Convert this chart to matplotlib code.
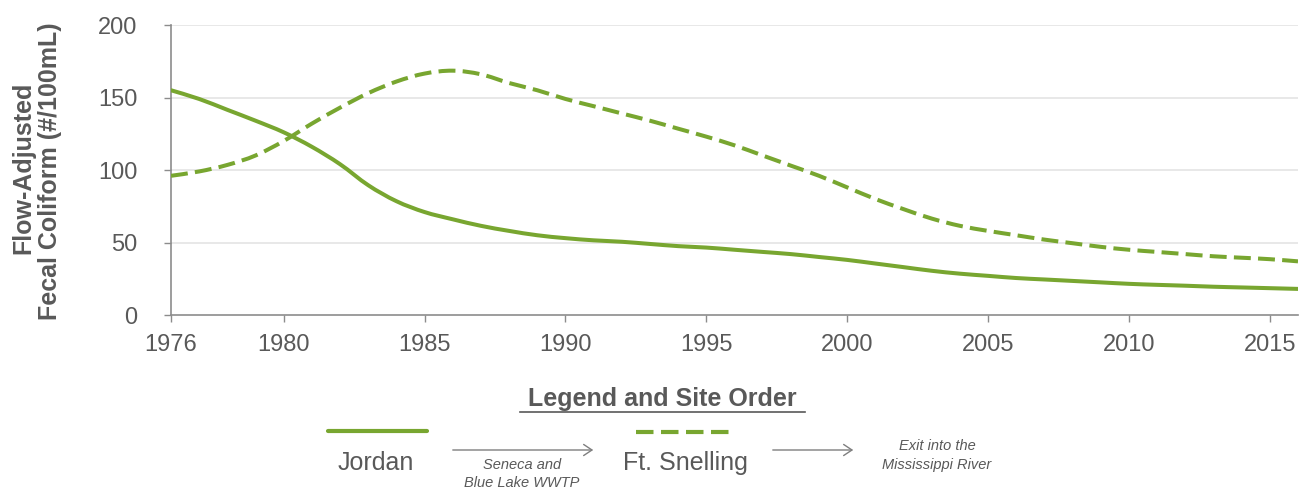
import matplotlib
matplotlib.use("Agg")
import matplotlib.pyplot as plt
import numpy as np
from matplotlib.lines import Line2D
from matplotlib.path import Path
from matplotlib.patches import PathPatch, FancyArrowPatch

plt.rcParams['font.family'] = ['Liberation Sans', 'DejaVu Sans']

years = list(range(1976, 2017))
jordan = [155, 149, 141.5, 134, 126, 116, 104, 89.5, 78.5, 71,
          66, 61.5, 58, 55, 53, 51.5, 50.5, 49, 47.5, 46.5,
          45, 43.5, 42, 40, 38, 35.5, 33, 30.5, 28.5, 27,
          25.5, 24.5, 23.5, 22.5, 21.5, 20.8, 20.2, 19.5, 19, 18.5, 18]
ft_snelling = [96, 99, 103.5, 110, 120, 132, 143, 153, 161, 166.5,
               168.5, 166, 160, 155, 149, 144, 139, 134, 128.5, 123,
               117, 110, 103, 96, 88, 80, 73, 66.5, 61.5, 58,
               55, 52, 49.5, 47, 45, 43.5, 42, 40.5, 39.5, 38.5, 37]
xticks = [1976, 1980, 1985, 1990, 1995, 2000, 2005, 2010, 2015]
yticks = [0, 50, 100, 150, 200]

GREEN = "#78A630"
GRAY_TXT = "#595959"
SPINE = "#8c8c8c"
DASH = (0, (4.2, 1.8))


def smooth_path(xs, ys):
    """Smoothed (Catmull-Rom style) Bezier path through the data points."""
    p = np.column_stack([xs, ys]).astype(float)
    n = len(p)
    verts = [p[0]]
    codes = [Path.MOVETO]
    for i in range(n - 1):
        p0 = p[i - 1] if i > 0 else p[i]
        p1, p2 = p[i], p[i + 1]
        p3 = p[i + 2] if i + 2 < n else p[i + 1]
        c1 = p1 + (p2 - p0) / 6.0
        c2 = p2 - (p3 - p1) / 6.0
        verts += [c1, c2, p2]
        codes += [Path.CURVE4] * 3
    return Path(verts, codes)


W, H = 1312, 494
fig = plt.figure(figsize=(W / 100, H / 100), dpi=100)
ax = fig.add_axes([171 / W, 1 - 315 / H, (1298 - 171) / W, (315 - 25) / H])

ax.add_patch(PathPatch(smooth_path(years, jordan), fill=False, edgecolor=GREEN, lw=2.9,
                       capstyle='round', zorder=3))
ax.add_patch(PathPatch(smooth_path(years, ft_snelling), fill=False, edgecolor=GREEN, lw=2.9,
                       linestyle=DASH, capstyle='butt', zorder=3))

ax.set_xlim(1976, 2016)
ax.set_ylim(0, 200)
ax.set_xticks(xticks)
ax.set_yticks(yticks)
ax.tick_params(axis='both', labelsize=17, colors=GRAY_TXT, length=5, width=1, color=SPINE)
ax.tick_params(axis='x', pad=9)
ax.tick_params(axis='y', pad=19)
for y in yticks[1:]:
    ax.axhline(y, color="#e6e6e6", lw=1.3, zorder=0)
for s in ['top', 'right']:
    ax.spines[s].set_visible(False)
for s in ['left', 'bottom']:
    ax.spines[s].set_color(SPINE)
    ax.spines[s].set_linewidth(1.2)

fig.text(23 / W, 1 - 168 / H, "Flow-Adjusted", rotation=90, ha='center', va='center',
         fontsize=18, fontweight='bold', color=GRAY_TXT)
fig.text(50 / W, 1 - 171 / H, "Fecal Coliform (#/100mL)", rotation=90, ha='center', va='center',
         fontsize=18, fontweight='bold', color=GRAY_TXT)

# Legend and site order
fig.text(662 / W, 1 - 399 / H, "Legend and Site Order", ha='center', va='center',
         fontsize=18, fontweight='bold', color=GRAY_TXT)
fig.add_artist(Line2D([520 / W, 805 / W], [1 - 412 / H, 1 - 412 / H], color=GRAY_TXT, lw=1.2))

fig.add_artist(Line2D([328 / W, 427 / W], [1 - 431 / H, 1 - 431 / H], color=GREEN, lw=3,
                      solid_capstyle='round'))
fig.add_artist(Line2D([636 / W, 735 / W], [1 - 432 / H, 1 - 432 / H], color=GREEN, lw=3,
                      linestyle=DASH))

fig.text(376 / W, 1 - 463 / H, "Jordan", ha='center', va='center', fontsize=18, color=GRAY_TXT)
fig.text(685 / W, 1 - 463 / H, "Ft. Snelling", ha='center', va='center', fontsize=18, color=GRAY_TXT)

for x0, x1 in [(450, 596), (770, 856)]:
    fig.add_artist(FancyArrowPatch(
        (x0 / W, 1 - 450 / H), (x1 / W, 1 - 450 / H), transform=fig.transFigure,
        arrowstyle='->,head_length=6,head_width=4', color="#7f7f7f", lw=1.0))

fig.text(522 / W, 1 - 465 / H, "Seneca and", ha='center', va='center', fontsize=10.5,
         style='italic', color=GRAY_TXT)
fig.text(522 / W, 1 - 483 / H, "Blue Lake WWTP", ha='center', va='center', fontsize=10.5,
         style='italic', color=GRAY_TXT)
fig.text(937 / W, 1 - 446 / H, "Exit into the", ha='center', va='center', fontsize=10.5,
         style='italic', color=GRAY_TXT)
fig.text(937 / W, 1 - 465 / H, "Mississippi River", ha='center', va='center', fontsize=10.5,
         style='italic', color=GRAY_TXT)

fig.savefig("out.png", dpi=100)
